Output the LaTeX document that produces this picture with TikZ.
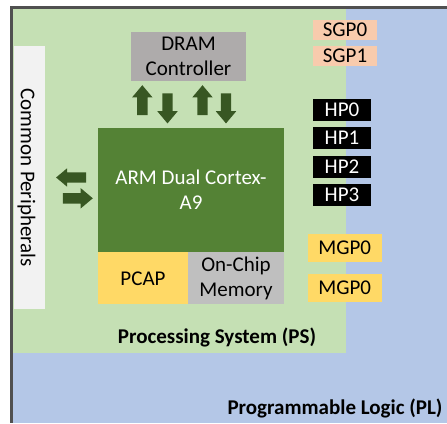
\documentclass[tikz,border=0pt]{standalone}
\usepackage{fontspec}
\setmainfont{Carlito}
\usetikzlibrary{shapes.arrows}
\definecolor{psgreen}{HTML}{C5E0B4}
\definecolor{plblue}{HTML}{B4C7E7}
\definecolor{armgreen}{HTML}{548235}
\definecolor{arrowgreen}{HTML}{385723}
\definecolor{dramgray}{HTML}{AEABAB}
\definecolor{chipgray}{HTML}{BFBFBF}
\definecolor{portyellow}{HTML}{FFD966}
\definecolor{portsalmon}{HTML}{F8CBAD}
\definecolor{periphwhite}{HTML}{F2F2F2}
\definecolor{framegray}{HTML}{505050}
\tikzset{%
  % Specifications for style of nodes:
         basebox/.style = {rectangle, draw=none, inner sep=0pt,
                           align=center, font=\fontsize{21}{25}\selectfont},
          region/.style = {basebox},
       titletext/.style = {basebox, font=\fontsize{21}{25}\selectfont\bfseries},
         graybox/.style = {basebox, fill=dramgray},
         chipbox/.style = {basebox, fill=chipgray},
        greenbox/.style = {basebox, fill=armgreen, text=white},
       yellowbox/.style = {basebox, fill=portyellow},
       periphbox/.style = {basebox, fill=periphwhite, minimum width=31pt,
                           minimum height=263pt},
          sgpbox/.style = {basebox, fill=portsalmon, minimum width=64pt,
                           minimum height=20pt},
           hpbox/.style = {basebox, fill=black, text=white, minimum width=58pt,
                           minimum height=22pt},
          mgpbox/.style = {yellowbox, minimum width=73.5pt, minimum height=28pt},
        busarrow/.style = {single arrow, draw=none, fill=arrowgreen,
                           inner sep=5pt, text height=0pt, text depth=0pt,
                           minimum height=30pt,
                           single arrow head extend=5pt, single arrow tip angle=80},
       frameline/.style = {draw=framegray, line width=2.2pt},
}
\begin{document}
\begin{tikzpicture}[x=1pt, y=-1pt, node distance=28.5pt]
  \useasboundingbox (0,0) rectangle (447,423);
  % Regions (PL behind, PS on top)
  \node (pl)			[region, fill=plblue, minimum width=435.25pt, minimum height=415.25pt] at (229.375,215.375) {};
  \draw[frameline]		(pl.north east) -- (pl.north west) -- (pl.south west);
  \node (ps)			[region, fill=psgreen, minimum width=333pt, minimum height=344pt] at (179.5,181) {};
  \node (pslabel)		[titletext, anchor=base] at (217,343) {Processing System (PS)};
  \node (pllabel)		[titletext, anchor=base] at (335,414) {Programmable Logic (PL)};

  % Blocks of the PS
  \node (periph)		[periphbox] at (29.5,177.5) {};
  \node (periphlabel)		[basebox, rotate=-90] at (26.5,177.5) {Common Peripherals};
  \node (dram)			[graybox, minimum width=115pt, minimum height=49pt] at (188.5,56.5) {DRAM\\Controller};
  \node (arm)			[greenbox, minimum width=186pt, minimum height=124pt] at (191,190) {ARM Dual Cortex-\\A9};
  \node (pcap)			[yellowbox, minimum width=90pt, minimum height=52pt, anchor=north west] at (arm.south west) {PCAP};
  \node (ocm)			[chipbox, minimum width=96pt, minimum height=52pt, anchor=north east] at (arm.south east) {On-Chip\\Memory};

  % Ports
  \node (sgpzero)		[sgpbox] at (345,30) {SGP0};
  \node (sgpone)		[sgpbox, below of=sgpzero, yshift=2.5pt] {SGP1};
  \node (hpzero)		[hpbox] at (342,109.5) {HP0};
  \node (hpone)			[hpbox, below of=hpzero] {HP1};
  \node (hptwo)			[hpbox, below of=hpone] {HP2};
  \node (hpthree)		[hpbox, below of=hptwo] {HP3};
  \node (mgpzero)		[mgpbox] at (344.75,248) {MGP0};
  \node (mgpone)		[mgpbox, below of=mgpzero, yshift=-11.5pt] {MGP0};

  % Bus arrows
  \node (dramup)		[busarrow, shape border rotate=90] at (142.3,103.3) {};
  \node (dramdown)		[busarrow, shape border rotate=270] at (167.5,105.3) {};
  \node (dramuptwo)		[busarrow, shape border rotate=90] at (202.5,103.3) {};
  \node (dramdowntwo)		[busarrow, shape border rotate=270] at (226,105.3) {};
  \node (periphin)		[busarrow, shape border rotate=180, single arrow head extend=4pt] at (74.2,177.5) {};
  \node (periphout)		[busarrow] at (74.7,198.3) {};
\end{tikzpicture}
\end{document}
